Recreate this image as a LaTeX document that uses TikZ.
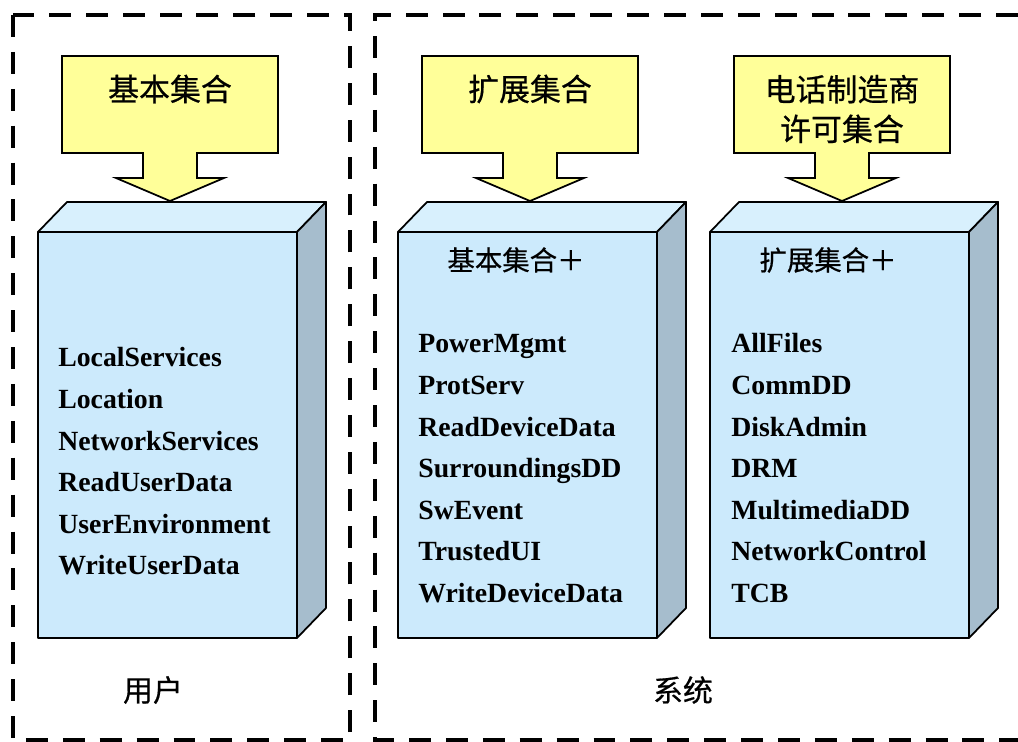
\documentclass[tikz,border=0pt]{standalone}
\usepackage{fontspec}
\setmainfont{Liberation Serif}
\newfontfamily\cjk[FakeBold=0.6]{Noto Sans CJK SC}
\usetikzlibrary{positioning}

\definecolor{callfill}{RGB}{255,255,153}
\definecolor{frontfill}{RGB}{204,234,252}
\definecolor{topfill}{RGB}{216,240,253}
\definecolor{sidefill}{RGB}{166,189,205}

\begin{document}
\begin{tikzpicture}[x=0.02cm,y=-0.02cm]
				\tikzstyle{every node}=[inner sep=0pt]
				\tikzstyle{zone}=[line width=2.3pt,dash pattern=on 12.5pt off 8.5pt]
				\tikzstyle{callout}=[draw,line width=1pt,fill=callfill,line join=miter]
				\tikzstyle{face}=[draw,line width=1pt,line join=round]
				\tikzstyle{calltext}=[font=\cjk\fontsize{17.6}{22.6}\selectfont,align=center]
				\tikzstyle{headtext}=[font=\cjk\fontsize{15.6}{18}\selectfont]
				\tikzstyle{item}=[font=\bfseries\fontsize{15.8}{18}\selectfont,anchor=base west]
				\tikzstyle{zonetext}=[font=\cjk\fontsize{17}{20}\selectfont]
				\useasboundingbox (0,0) rectangle (1018,742);
				% the two dashed zones
				\draw[zone] (13,15) rectangle (350,740);
				\draw[zone] (1018,15) -- (375,15) -- (375,740) -- (1018,740);
				% yellow callouts pointing down onto the boxes
				\foreach \cx in {170,530,842} {
					\draw[callout] (\cx-108,56) -- (\cx+108,56) -- (\cx+108,153) -- (\cx+27,153)
						-- (\cx+27,178) -- (\cx+54,178) -- (\cx,201) -- (\cx-54,178)
						-- (\cx-27,178) -- (\cx-27,153) -- (\cx-108,153) -- cycle;
				}
				\node[calltext] (basic) at (170,89) {基本集合};
				\node[calltext] (ext) at (530,89) {扩展集合};
				\node[calltext] (vendor) at (842,109) {电话制造商\\许可集合};
				% three boxes
				\foreach \bx in {38,398,710} {
					\draw[face,fill=topfill] (\bx,232) -- (\bx+29,202) -- (\bx+288,202) -- (\bx+259,232) -- cycle;
					\draw[face,fill=sidefill] (\bx+259,232) -- (\bx+288,202) -- (\bx+288,608) -- (\bx+259,638) -- cycle;
					\draw[face,fill=frontfill] (\bx,232) rectangle (\bx+259,638);
				}
				\node[headtext] (plusbasic) at (516,260) {基本集合＋};
				\node[headtext] (plusext) at (828,260) {扩展集合＋};
				% capability lists
				\foreach \t [count=\i] in {LocalServices,Location,NetworkServices,ReadUserData,UserEnvironment,WriteUserData}
					\node[item] (user\i) at (58,{367+41.6*(\i-1)}) {\t};
				\foreach \t [count=\i] in {PowerMgmt,ProtServ,ReadDeviceData,SurroundingsDD,SwEvent,TrustedUI,WriteDeviceData}
					\node[item] (sysa\i) at (418,{353+41.6*(\i-1)}) {\t};
				\foreach \t [count=\i] in {AllFiles,CommDD,DiskAdmin,DRM,MultimediaDD,NetworkControl,TCB}
					\node[item] (sysb\i) at (731,{353+41.6*(\i-1)}) {\t};
				% zone labels
				\node[zonetext] (userzone) at (153,690) {用户};
				\node[zonetext] (syszone) at (683,690) {系统};
\end{tikzpicture}
\end{document}
